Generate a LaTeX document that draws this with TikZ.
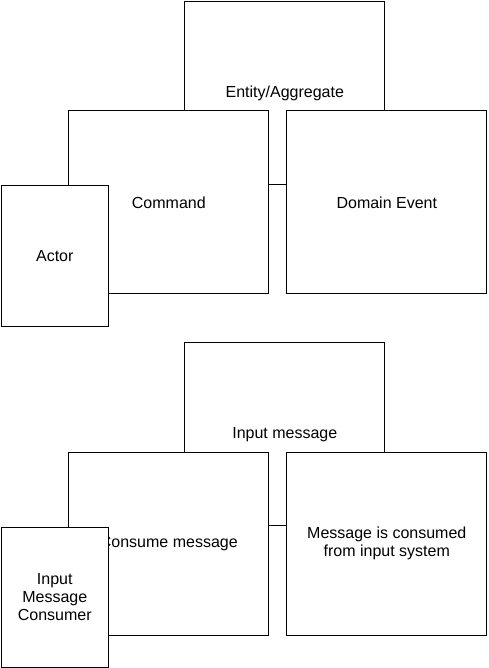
\documentclass[tikz,border=0pt]{standalone}
\usepackage{fontspec}
\setmainfont{Liberation Sans}
\usetikzlibrary{positioning}

\begin{document}
\begin{tikzpicture}[
  x=1pt, y=-1pt,
  box/.style={rectangle, draw=black, fill=white, line width=1pt,
              anchor=north west, align=center, inner sep=2pt,
              minimum width=200pt, minimum height=183pt,
              font=\fontsize{16}{18}\selectfont},
  actorbox/.style={box, minimum width=107.5pt, minimum height=141pt}
]
\useasboundingbox (0,0) rectangle (488,668);

% Top group
\node[box]      (entity)  at (184.3,1.3)   {Entity/Aggregate};
\node[box]      (command) at (68.3,110.3)  {Command};
\node[box]      (event)   at (286.3,110.3) {Domain Event};
\node[actorbox] (actor)   at (0.5,185.3)   {Actor};

% Bottom group
\node[box]      (input)    at (184.3,342.3) {Input message};
\node[box]      (consume)  at (68.3,451.5)  {Consume message};
\node[box]      (consumed) at (286.3,451.5) {Message is consumed\\from input system};
\node[actorbox, minimum height=140pt] (consumer) at (0.5,526.5) {Input\\Message\\Consumer};

\end{tikzpicture}
\end{document}
